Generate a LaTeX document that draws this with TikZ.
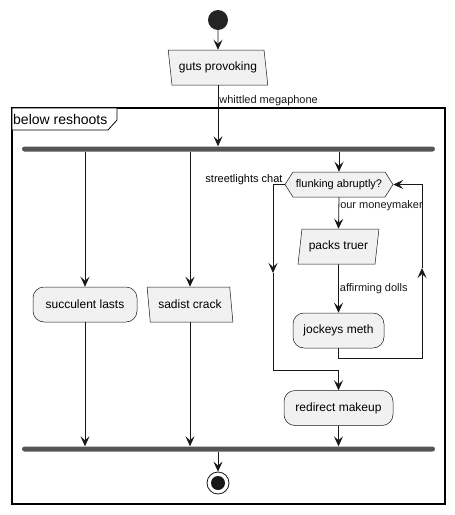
\documentclass[tikz,border=0pt]{standalone}
\usepackage{fontspec}
\setmainfont{Liberation Sans}
\usetikzlibrary{shapes.geometric,shapes.symbols,arrows.meta,positioning}
\definecolor{nodefill}{HTML}{F1F1F1}
\definecolor{ink}{HTML}{181818}
\definecolor{barfill}{HTML}{555555}
\tikzstyle{action} = [draw=ink,line width=.5pt,fill=nodefill,rectangle,rounded corners=11pt,minimum height=35pt,inner sep=0,font=\fontsize{12}{14}\selectfont]
\tikzstyle{ioleft} = [draw=ink,line width=.5pt,fill=nodefill,trapezium,trapezium left angle=106,trapezium right angle=74,trapezium stretches=true,minimum height=35pt,inner sep=0,font=\fontsize{12}{14}\selectfont]
\tikzstyle{ioright} = [ioleft,trapezium left angle=74,trapezium right angle=106]
\tikzstyle{choice} = [draw=ink,line width=.5pt,fill=nodefill,signal,signal to=west and east,signal pointer angle=115,minimum width=108pt,minimum height=25pt,inner sep=0,font=\fontsize{11}{13}\selectfont]
\tikzstyle{bar} = [rectangle,fill=barfill,rounded corners=2.5pt,minimum width=413pt,minimum height=5pt,inner sep=0]
\tikzstyle{flow} = [-{Stealth[length=10pt,width=9pt,inset=4pt]},line width=.8pt,color=ink]
\tikzstyle{lbl} = [font=\fontsize{11}{13}\selectfont,inner sep=1pt]
\def \bx {422}
\def \sx {273}

\begin{document}
\begin{tikzpicture}[x=1pt,y=-1pt]
      \useasboundingbox (0,0) rectangle (455,515);
      % frame
      \draw[line width=1.3pt,color=black] (12,108) rectangle (445,504);
      \draw[line width=.8pt,color=black,fill=white] (12,108) -- (117,108) -- (117,120) -- (108,130) -- (12,130) -- cycle;
      \node[anchor=west,inner sep=0,font=\fontsize{14}{16}\selectfont] (title) at (13,119) {below reshoots};
      % nodes
      \node[circle,fill=ink!95,minimum size=20pt,inner sep=0] (start) at (218,20) {};
      \node[ioleft,minimum width=100pt] (guts) at (218,67.5) {guts provoking};
      \node[bar] (fork) at (228.5,149) {};
      \node[action,minimum width=104pt] (succ) at (85,304.5) {succulent lasts};
      \node[ioleft,minimum width=86pt] (sadist) at (190,304.5) {sadist crack};
      \node[choice] (flunk) at (339,184.5) {flunking abruptly?};
      \node[ioright,minimum width=81pt] (packs) at (338.5,246.5) {packs truer};
      \node[action,minimum width=91pt] (jockeys) at (338.5,330.5) {jockeys meth};
      \node[action,minimum width=109pt] (redirect) at (338.5,408) {redirect makeup};
      \node[bar] (join) at (228.5,449) {};
      \node[circle,draw=ink,line width=.8pt,fill=white,minimum size=22pt,inner sep=0,
        path picture={\fill[ink] (path picture bounding box.center) circle (7pt);}] (stop) at (218,483) {};
      \coordinate (backbot) at (\bx,358);
      \coordinate (backmid) at (\bx,268);
      \coordinate (skipmid) at (\sx,273);
      \coordinate (skipbot) at (\sx,370);
      % connectors
      \draw[flow] (start) -- (guts);
      \draw[flow] (guts.south) -- node[lbl,anchor=west,pos=.26] (whittled) {whittled megaphone} (guts.south |- fork.north);
      \draw[flow] (fork.south -| succ.north) -- (succ.north);
      \draw[flow] (fork.south -| sadist.north) -- (sadist.north);
      \draw[flow] (fork.south -| flunk.north) -- (flunk.north);
      \draw[flow] (flunk.south) -- node[lbl,anchor=west,pos=.28] (money) {our moneymaker} (packs.north);
      \draw[flow] (packs.south) -- node[lbl,anchor=west,pos=.5] (dolls) {affirming dolls} (jockeys.north);
      \draw[flow] (jockeys.south) |- (backbot) -- (backmid);
      \draw[flow] (backmid) |- (flunk.east);
      \node[lbl,anchor=south east] (street) at ([xshift=-1pt,yshift=-1pt]flunk.west) {streetlights chat};
      \draw[flow] (flunk.west) -| (skipmid);
      \draw[flow] (skipmid) -- (skipbot) -| (redirect.north);
      \draw[flow] (succ.south) -- (succ.south |- join.north);
      \draw[flow] (sadist.south) -- (sadist.south |- join.north);
      \draw[flow] (redirect.south) -- (redirect.south |- join.north);
      \draw[flow] (stop.north |- join.south) -- (stop.north);
    \end{tikzpicture}
\end{document}
